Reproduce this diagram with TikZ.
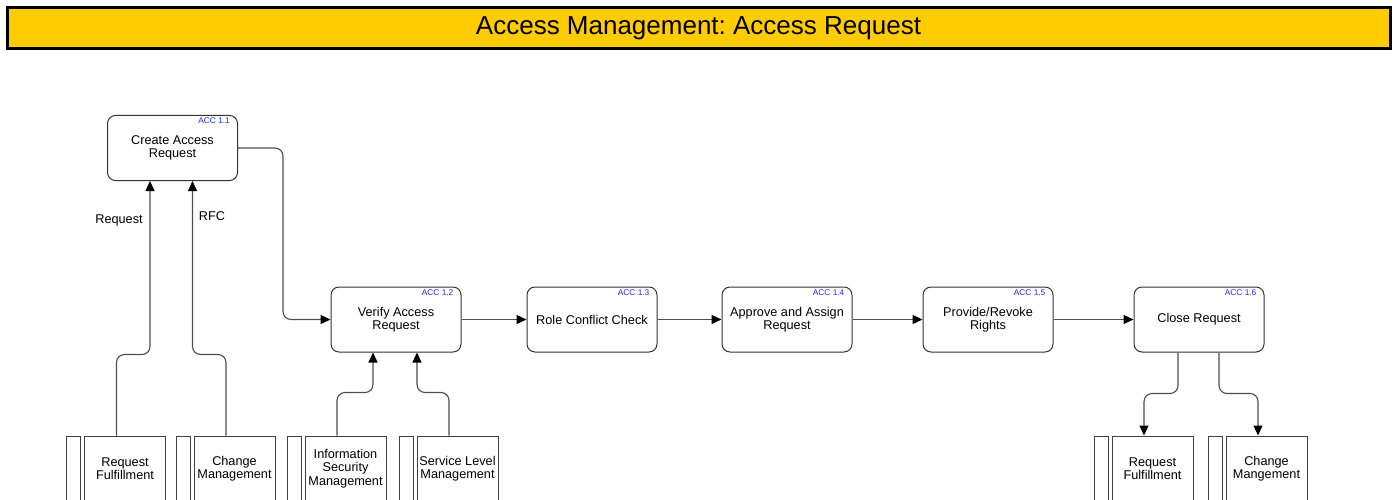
\documentclass[tikz,border=0pt]{standalone}
\usepackage{fontspec}
\setmainfont{Liberation Sans}
\usepackage{tikz}
\usetikzlibrary{arrows.meta, positioning}

\definecolor{titlegold}{HTML}{FFCC00}
\definecolor{linegray}{HTML}{4D4D4D}
\definecolor{tagblue}{HTML}{2222FF}
\frenchspacing

\begin{document}
\begin{tikzpicture}[
    x=1pt, y=-1pt,
    font=\fontsize{12.7}{13.5}\selectfont,
    process/.style={rectangle, draw=black!80, rounded corners=8pt, line width=1pt, minimum width=130pt, minimum height=65pt, align=center, inner sep=2pt},
    extbox/.style={rectangle, draw=black!75, line width=1pt, minimum width=81pt, minimum height=65pt, align=center, inner sep=1pt},
    strip/.style={rectangle, draw=black!75, line width=1pt, minimum width=14pt, minimum height=65pt, inner sep=0pt},
    tag/.style={font=\fontsize{8.3}{9}\selectfont, text=tagblue, inner sep=0pt, anchor=north east},
    arrow/.style={draw=linegray, line width=1.1pt, rounded corners=8pt, ->, >={Triangle[length=10pt,width=9pt,color=black]}}
]
\useasboundingbox (0,0) rectangle (1394,500);
\clip (0,0) rectangle (1394,500);

% Title bar
\node[rectangle, draw=black, line width=3pt, fill=titlegold, minimum width=1383pt, minimum height=41pt, font=\fontsize{26}{28}\selectfont] (title) at (698.5,28) {Access Management: Access Request};

% Process steps
\node[process] (create) at (172.5,148) {Create Access\\Request};
\node[process] (verify) at (396,319.5) {Verify Access\\Request};
\node[process] (conflict) at (592,319.5) {Role Conflict Check};
\node[process] (approve) at (787,319.5) {Approve and Assign\\Request};
\node[process] (provide) at (988,319.5) {Provide/Revoke\\Rights};
\node[process] (close) at (1199,319.5) {Close Request};

% Step numbers
\node[tag] (tag1) at ([xshift=-8pt,yshift=-3pt]create.north east) {ACC 1.1};
\node[tag] (tag2) at ([xshift=-8pt,yshift=-3pt]verify.north east) {ACC 1.2};
\node[tag] (tag3) at ([xshift=-8pt,yshift=-3pt]conflict.north east) {ACC 1.3};
\node[tag] (tag4) at ([xshift=-8pt,yshift=-3pt]approve.north east) {ACC 1.4};
\node[tag] (tag5) at ([xshift=-8pt,yshift=-3pt]provide.north east) {ACC 1.5};
\node[tag] (tag6) at ([xshift=-8pt,yshift=-3pt]close.north east) {ACC 1.6};

% External processes
\node[extbox] (rfin) at (125,468.5) {Request\\Fulfillment};
\node[strip, left=3pt of rfin] (rfinS) {};
\node[extbox] (cmin) at (234.5,468.5) {Change\\Management};
\node[strip, left=3pt of cmin] (cminS) {};
\node[extbox] (ism) at (345.5,468.5) {Information\\Security\\Management};
\node[strip, left=3pt of ism] (ismS) {};
\node[extbox] (slm) at (457.5,468.5) {Service Level\\Management};
\node[strip, left=3pt of slm] (slmS) {};
\node[extbox] (rfout) at (1152.5,468.5) {Request\\Fulfillment};
\node[strip, left=3pt of rfout] (rfoutS) {};
\node[extbox] (cmout) at (1266.5,468.5) {Change\\Mangement};
\node[strip, left=3pt of cmout] (cmoutS) {};

% Main flow
\draw[arrow] (create.east) -- ++(45,0) |- (verify.west);
\draw[arrow] (verify) -- (conflict);
\draw[arrow] (conflict) -- (approve);
\draw[arrow] (approve) -- (provide);
\draw[arrow] (provide) -- (close);

% Inputs
\draw[arrow] ([xshift=-8.5pt]rfin.north) -- ++(0,-81) -| ([xshift=-22.5pt]create.south);
\draw[arrow] ([xshift=-8.5pt]cmin.north) -- ++(0,-81) -| ([xshift=20pt]create.south);
\draw[arrow] ([xshift=-8.5pt]ism.north) -- ++(0,-43) -| ([xshift=-23pt]verify.south);
\draw[arrow] ([xshift=-8.5pt]slm.north) -- ++(0,-43) -| ([xshift=21pt]verify.south);
\node (reqlbl) at (119,220) {Request};
\node (rfclbl) at (212,216) {RFC};

% Outputs
\draw[arrow] ([xshift=-21pt]close.south) -- ++(0,41) -| ([xshift=-8.5pt]rfout.north);
\draw[arrow] ([xshift=20pt]close.south) -- ++(0,41) -| ([xshift=-8.5pt]cmout.north);

\end{tikzpicture}
\end{document}
